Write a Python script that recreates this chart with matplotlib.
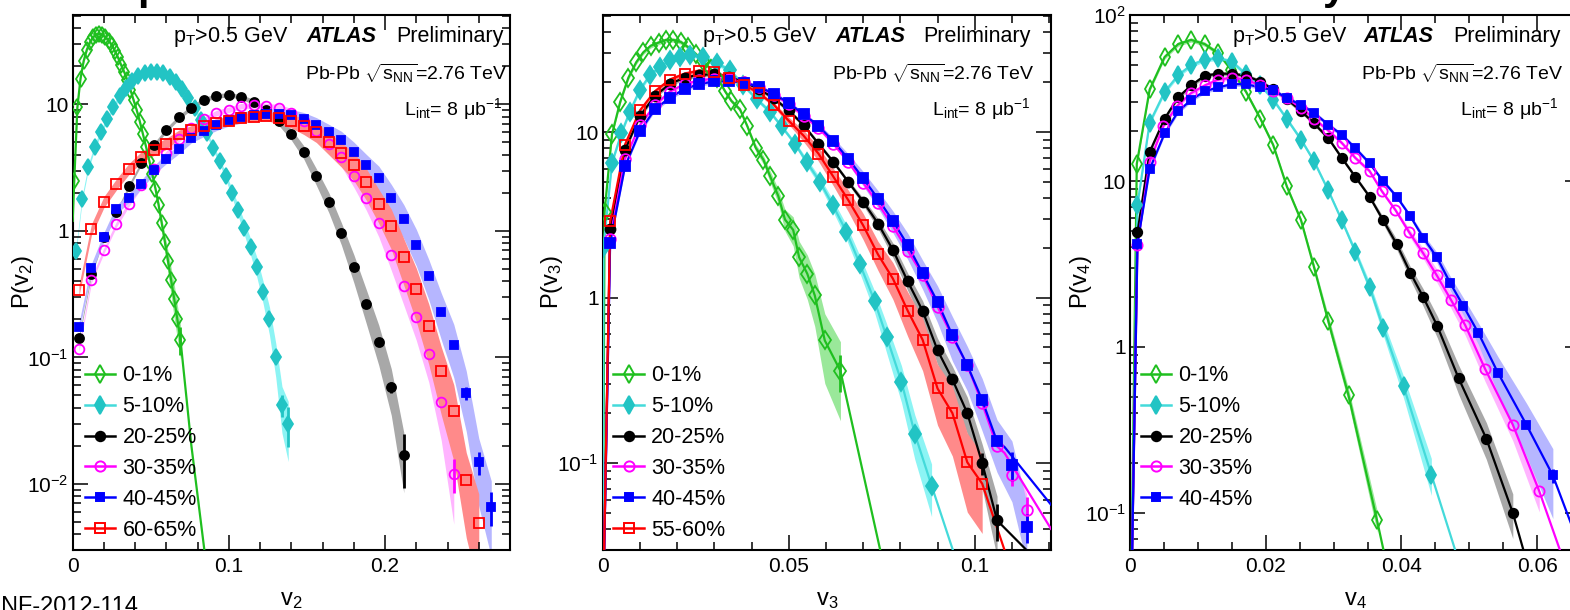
import numpy as np
import matplotlib
matplotlib.use("Agg")
import matplotlib.pyplot as plt
from matplotlib.lines import Line2D
from matplotlib.ticker import MultipleLocator, LogLocator, NullFormatter, FuncFormatter

plt.rcParams['font.family'] = ['Liberation Sans', 'DejaVu Sans']
plt.rcParams['mathtext.fontset'] = 'custom'
plt.rcParams['mathtext.rm'] = 'Liberation Sans'
plt.rcParams['mathtext.it'] = 'Liberation Sans:italic'
plt.rcParams['mathtext.bf'] = 'Liberation Sans:bold'

# ---------------- v2 panel ----------------
v2_labels = ['0-1%', '5-10%', '20-25%', '30-35%', '40-45%', '60-65%']

v2_x_a = [0.001, 0.003, 0.005, 0.007, 0.009, 0.011, 0.013, 0.015, 0.017, 0.019,
          0.021, 0.023, 0.025, 0.027, 0.029, 0.031, 0.033, 0.035, 0.037, 0.039,
          0.041, 0.043, 0.045, 0.047, 0.049, 0.051, 0.053, 0.055, 0.057, 0.059,
          0.061, 0.063, 0.065, 0.067, 0.069]
v2_y_a = [2.5, 9.5, 16, 22, 27, 31, 34, 35.6, 36, 35.5,
          34, 32, 29.5, 26.5, 23.5, 20.5, 18, 15.5, 13, 10.8,
          9.0, 7.3, 5.8, 4.6, 3.6, 2.8, 2.15, 1.6, 1.15, 0.82,
          0.58, 0.41, 0.29, 0.2, 0.138]
v2_band_a = [0.04] * 26 + [0.06, 0.08, 0.1, 0.15, 0.2, 0.25, 0.3, 0.3, 0.3]

v2_x_b = [0.002, 0.006, 0.010, 0.014, 0.018, 0.022, 0.026, 0.030, 0.034, 0.038,
          0.042, 0.046, 0.050, 0.054, 0.058, 0.062, 0.066, 0.070, 0.074, 0.078,
          0.082, 0.086, 0.090, 0.094, 0.098, 0.102, 0.106, 0.110, 0.114, 0.118,
          0.122, 0.126, 0.130, 0.134, 0.138]
v2_y_b = [0.69, 1.8, 3.2, 4.6, 6.0, 7.7, 9.6, 11.6, 13.6, 15.3,
          16.7, 17.7, 18.2, 18.2, 17.7, 16.6, 15.0, 13.2, 11.2, 9.3,
          7.5, 5.9, 4.5, 3.6, 2.7, 2.0, 1.45, 1.05, 0.75, 0.52,
          0.33, 0.2, 0.1, 0.042, 0.03]
v2_band_b = [0.05] * 24 + [0.06, 0.08, 0.1, 0.12, 0.15, 0.18, 0.2, 0.25, 0.3, 0.4, 0.5]

v2_bins = [0.004, 0.012, 0.020, 0.028, 0.036, 0.044, 0.052, 0.060, 0.068, 0.076,
           0.084, 0.092, 0.100, 0.108, 0.116, 0.124, 0.132, 0.140, 0.148, 0.156,
           0.164, 0.172, 0.180, 0.188, 0.196, 0.204, 0.212, 0.220, 0.228, 0.236,
           0.244, 0.252, 0.260, 0.268]

v2_y_c = [0.143, 0.46, 0.89, 1.40, 2.26, 3.45, 4.75, 6.3, 7.9, 9.45,
          10.9, 11.7, 11.9, 11.5, 10.4, 9.0, 7.4, 5.8, 4.2, 2.7,
          1.70, 0.97, 0.52, 0.264, 0.133, 0.058, 0.017]
v2_band_c = [0.04] * 14 + [0.05, 0.06, 0.08, 0.1, 0.12, 0.15, 0.18, 0.2, 0.25, 0.3, 0.35, 0.4, 0.5]

v2_y_d = [0.117, 0.41, 0.70, 1.13, 1.64, 2.29, 3.06, 4.1, 5.3, 6.5,
          7.6, 8.55, 9.1, 9.7, 9.85, 9.7, 9.45, 8.6, 7.4, 6.2,
          4.9, 3.85, 2.7, 1.82, 1.15, 0.65, 0.37, 0.21, 0.106, 0.044,
          0.012]
v2_band_d = [0.05] * 16 + [0.06, 0.08, 0.1, 0.12, 0.14, 0.16, 0.18, 0.2, 0.22, 0.25, 0.3, 0.35, 0.4, 0.5, 0.6]

v2_y_e = [0.174, 0.51, 0.90, 1.48, 1.82, 2.34, 3.04, 3.7, 4.43, 5.4,
          6.2, 6.9, 7.5, 7.9, 8.2, 8.4, 8.45, 8.3, 7.7, 6.9,
          6.0, 5.2, 4.2, 3.3, 2.6, 1.82, 1.24, 0.78, 0.44, 0.23,
          0.126, 0.052, 0.0148, 0.0066]
v2_band_e = [0.08] * 10 + [0.1] * 8 + [0.12, 0.14, 0.16, 0.18, 0.2, 0.22, 0.25, 0.28,
                                       0.3, 0.32, 0.35, 0.4, 0.45, 0.5, 0.55, 0.6]

v2_y_f = [0.34, 1.03, 1.70, 2.34, 3.1, 3.85, 4.4, 4.9, 5.8, 6.3,
          6.8, 7.1, 7.4, 7.8, 7.95, 8.1, 7.8, 7.4, 6.8, 6.1,
          5.0, 4.1, 3.33, 2.43, 1.64, 1.10, 0.62, 0.35, 0.176, 0.078,
          0.038, 0.0107, 0.0049]
v2_band_f = [0.1] * 8 + [0.08] * 8 + [0.1, 0.12, 0.15, 0.18, 0.2, 0.22, 0.25, 0.28, 0.3,
                                      0.35, 0.4, 0.45, 0.5, 0.55, 0.6, 0.65, 0.7]

# relative stat. errors on the last points of each curve
v2_stat = [[0.25], [0.2, 0.35], [0.1, 0.45], [0.3], [0.12, 0.2, 0.3], []]
# only the 0-1% curve has a drawn fit line in this panel
v2_head_a = ([0.0], [1.2])
v2_tail_a = ([0.076, 0.0843, 0.086], [0.02, 0.003, 0.002])

# ---------------- v3 panel ----------------
v3_labels = ['0-1%', '5-10%', '20-25%', '30-35%', '40-45%', '55-60%']

v3_x_a = [0.0005, 0.0025, 0.0047, 0.0069, 0.009, 0.0109, 0.0129, 0.015, 0.017, 0.019,
          0.021, 0.023, 0.025, 0.027, 0.029, 0.0308, 0.0329, 0.0346, 0.0369, 0.0389,
          0.0411, 0.0432, 0.045, 0.0472, 0.049, 0.0512, 0.0528, 0.055, 0.057, 0.0597,
          0.0639]
v3_y_a = [3.3, 9.7, 15.2, 21.3, 26.4, 30.3, 33.2, 34.7, 36, 36,
          35, 32.5, 29.6, 26.8, 24, 21.3, 17.6, 15.4, 13.7, 10.8,
          8.05, 6.8, 5.4, 4.1, 2.96, 2.56, 1.75, 1.39, 1.03, 0.55,
          0.36]
v3_band_a = [0.03] * 20 + [0.05, 0.06, 0.08, 0.1, 0.15, 0.2, 0.25, 0.3, 0.35, 0.45, 0.5]

v3_x_b = [0.0002, 0.0025, 0.005, 0.0073, 0.01, 0.0127, 0.0154, 0.0181, 0.0208, 0.0234,
          0.027, 0.0306, 0.0342, 0.0378, 0.0414, 0.0449, 0.0481, 0.0517, 0.0548, 0.0584,
          0.0619, 0.0655, 0.0691, 0.0731, 0.0763, 0.0803, 0.0839, 0.0884]
v3_y_b = [1.98, 6.5, 9.8, 13.3, 18, 22.1, 24.8, 27.2, 28.5, 29.2,
          28.5, 26, 23.7, 19.2, 15.8, 13.3, 10.8, 8.5, 6.6, 5.0,
          3.6, 2.5, 1.6, 0.95, 0.58, 0.31, 0.15, 0.073]
v3_band_b = [0.03] * 18 + [0.05, 0.06, 0.08, 0.1, 0.12, 0.15, 0.2, 0.25, 0.3, 0.35]

v3_bins = [0.002, 0.006, 0.010, 0.014, 0.018, 0.022, 0.026, 0.030, 0.034, 0.038,
           0.042, 0.046, 0.050, 0.054, 0.058, 0.062, 0.066, 0.070, 0.074, 0.078,
           0.082, 0.086, 0.090, 0.094, 0.098, 0.102, 0.106, 0.110, 0.114]

v3_y_c = [2.6, 7.8, 12.5, 16.5, 19.5, 21.3, 22.2, 22.3, 21.5, 20,
          18.2, 16, 13.5, 11.0, 8.5, 6.6, 5.0, 3.8, 2.8, 1.94,
          1.25, 0.83, 0.48, 0.32, 0.2, 0.1, 0.045]
v3_band_c = [0.03] * 17 + [0.05, 0.07, 0.1, 0.12, 0.15, 0.18, 0.2, 0.25, 0.3, 0.4]

v3_y_d = [2.26, 6.9, 11, 14.5, 17.5, 19.5, 20.5, 21, 20.8, 20,
          18.7, 16.8, 14.8, 12.5, 10.6, 8.5, 6.6, 4.95, 3.7, 2.7,
          1.92, 1.37, 0.88, 0.58, 0.39, 0.229, 0.126, 0.085, 0.052]
v3_band_d = [0.03] * 18 + [0.05, 0.06, 0.08, 0.1, 0.12, 0.14, 0.16, 0.18, 0.2, 0.22, 0.25]

v3_y_e = [2.14, 6.2, 10.1, 13.7, 16.1, 18.2, 19.5, 20.2, 20.3, 19.9,
          18.8, 17, 15, 12.8, 10.9, 8.8, 6.9, 5.25, 3.95, 2.9,
          2.07, 1.4, 0.94, 0.59, 0.39, 0.24, 0.135, 0.097, 0.041]
v3_band_e = [0.03] * 15 + [0.05, 0.07, 0.1, 0.12, 0.15, 0.18, 0.2, 0.25, 0.3, 0.3, 0.35, 0.35, 0.4, 0.4]

v3_y_f = [2.88, 8.4, 13.5, 17.6, 20.7, 22.5, 23.5, 22.9, 21.3, 19.3,
          17.2, 14.6, 11.7, 9.5, 7.4, 5.37, 3.88, 2.73, 1.82, 1.30,
          0.83, 0.555, 0.282, 0.20, 0.101, 0.075]
v3_band_f = [0.03] * 12 + [0.05, 0.08, 0.1, 0.12, 0.15, 0.18, 0.2, 0.25, 0.3, 0.35, 0.4, 0.45, 0.5, 0.5]

v3_stat = [[0.25], [], [0.15, 0.25], [0.15, 0.2], [0.2, 0.2], []]
# fit-line ends beyond the data
v3_tails = [([0.0763], [0.02]), ([0.0955], [0.024]), ([0.1139, 0.118], [0.0298, 0.022]),
            ([0.108, 0.1205], [0.115, 0.040]), ([0.108, 0.1205], [0.125, 0.056]),
            ([0.108, 0.110], [0.0298, 0.022])]

# ---------------- v4 panel ----------------
v4_labels = ['0-1%', '5-10%', '20-25%', '30-35%', '40-45%']

v4_x_a = [0.001, 0.0029, 0.0051, 0.0071, 0.009, 0.011, 0.013, 0.0149, 0.0171, 0.0192,
          0.0211, 0.0231, 0.0252, 0.0271, 0.0292, 0.0322, 0.0364]
v4_y_a = [12.7, 35.7, 56, 67, 71, 67, 59, 47, 34.5, 23.8,
          16.5, 9.3, 5.8, 3.04, 1.44, 0.51, 0.09]
v4_band_a = [0.03] * 13 + [0.05, 0.08, 0.1, 0.15]

v4_x_b = [0.0011, 0.0029, 0.0051, 0.0071, 0.009, 0.011, 0.013, 0.015, 0.0171, 0.0192,
          0.0211, 0.0231, 0.0252, 0.0271, 0.0292, 0.0312, 0.0332, 0.0353, 0.0373, 0.0403,
          0.0444]
v4_y_b = [7.2, 22.5, 34.5, 43.5, 50, 54, 55, 52.5, 44, 38,
          31, 23.7, 17.8, 13.2, 8.8, 5.8, 3.75, 2.3, 1.31, 0.58,
          0.17]
v4_band_b = [0.03] * 16 + [0.05, 0.07, 0.1, 0.15, 0.25]

v4_x_c = [0.0011, 0.0029, 0.0051, 0.0071, 0.009, 0.011, 0.013, 0.015, 0.0171, 0.0192,
          0.0211, 0.0231, 0.0252, 0.0271, 0.0292, 0.0312, 0.0332, 0.0353, 0.0373, 0.0393,
          0.0413, 0.0432, 0.0453, 0.0484, 0.0525, 0.0564]
v4_y_c = [4.9, 15, 23.8, 32, 37.7, 43.2, 44.4, 44.4, 43.2, 39.8,
          35.7, 31.2, 26.5, 22.3, 18.2, 13.8, 10.6, 8.05, 5.8, 4.16,
          2.8, 2.0, 1.33, 0.65, 0.28, 0.1]
v4_band_c = [0.03] * 18 + [0.05, 0.07, 0.09, 0.12, 0.15, 0.2, 0.25, 0.3]

v4_x_d = [0.0011, 0.0029, 0.0049, 0.0069, 0.009, 0.011, 0.013, 0.015, 0.0171, 0.0192,
          0.0211, 0.0231, 0.0252, 0.0271, 0.0292, 0.0312, 0.0332, 0.0353, 0.0371, 0.0391,
          0.0411, 0.0432, 0.0452, 0.0473, 0.0494, 0.0523, 0.0564, 0.0603]
v4_y_d = [4.1, 13.1, 21.4, 28.3, 33.9, 37.7, 40.9, 42, 40.9, 37.7,
          35.1, 31.5, 27.7, 23.8, 20.2, 17, 13.8, 11.5, 8.7, 6.7,
          4.94, 3.67, 2.7, 1.92, 1.35, 0.74, 0.34, 0.135]
v4_band_d = [0.03] * 20 + [0.05, 0.07, 0.09, 0.11, 0.13, 0.16, 0.2, 0.25]

v4_x_e = [0.0011, 0.0029, 0.0051, 0.0071, 0.009, 0.011, 0.013, 0.015, 0.0171, 0.0192,
          0.0211, 0.0231, 0.0252, 0.0271, 0.0292, 0.0312, 0.0332, 0.0353, 0.0373, 0.0393,
          0.0413, 0.0432, 0.0452, 0.0472, 0.0491, 0.0513, 0.0542, 0.0584, 0.0623]
v4_y_e = [4.2, 11.8, 19.4, 26.3, 30.9, 34.8, 36.7, 38.4, 38.4, 36.7,
          35.3, 31.7, 28.8, 25.8, 21.9, 19, 15.8, 12.8, 10, 8.05,
          6.14, 4.56, 3.48, 2.42, 1.77, 1.22, 0.70, 0.34, 0.168]
v4_band_e = [0.03] * 21 + [0.05, 0.07, 0.1, 0.12, 0.15, 0.25, 0.35, 0.45]

v4_stat = [[], [], [], [], [0.1]]
v4_tails = [([0.0380], [0.045]), ([0.0485], [0.05]), ([0.0585], [0.05]),
            ([0.0640], [0.05]), ([0.0663], [0.062])]

# ---------------- styles ----------------
COLORS = ['#1fbf1f', '#22c4c4', '#000000', '#ff00ff', '#0000ff', '#ff0000']
LINECOL = ['#1fbf1f', '#44dada', '#000000', '#ff00ff', '#0000ff', '#ff0000']
BANDCOL = ['#9ae89a', '#8cf4f4', '#a8a8a8', '#ffb4ff', '#b6b6ff', '#ff8a8a']
MARKERS = ['d', 'd', 'o', 'o', 's', 's']
FILLED = [False, True, True, False, True, False]
MSIZE = [8.5, 8.5, 6.5, 7, 6, 7]

W, H = 1570, 610
fig = plt.figure(figsize=(W / 100, H / 100), dpi=100)


def px_axes(l, t, r, b):
    return fig.add_axes([l / W, 1 - b / H, (r - l) / W, (b - t) / H])


def log_fmt(v, pos):
    e = int(round(np.log10(v)))
    if e == 0:
        return '1'
    if e == 1:
        return '10'
    return r'$10^{%d}$' % e


def setup(ax, xlim, ylim, xmaj, xmin, xlab, ylab, ylab_x):
    ax.set_yscale('log')
    ax.set_xlim(*xlim)
    ax.set_ylim(*ylim)
    ax.xaxis.set_major_locator(MultipleLocator(xmaj))
    ax.xaxis.set_minor_locator(MultipleLocator(xmin))
    ax.xaxis.set_major_formatter(FuncFormatter(lambda v, p: '0' if abs(v) < 1e-9 else '%g' % v))
    ax.yaxis.set_major_locator(LogLocator(base=10, numticks=12))
    ax.yaxis.set_minor_locator(LogLocator(base=10, subs=np.arange(2, 10), numticks=30))
    ax.yaxis.set_major_formatter(FuncFormatter(log_fmt))
    ax.yaxis.set_minor_formatter(NullFormatter())
    ax.tick_params(which='both', direction='in', top=True, right=True, width=1.1, labelsize=15)
    ax.tick_params(which='major', length=10.5)
    ax.tick_params(which='minor', length=5.5)
    ax.tick_params(axis='x', pad=5)
    ax.tick_params(axis='y', pad=3)
    for sp in ax.spines.values():
        sp.set_linewidth(1.5)
    ax.set_xlabel(xlab, fontsize=17)
    ax.xaxis.set_label_coords(0.5, -0.093)
    ax.xaxis.label.set_va('center')
    ax.set_ylabel(ylab, fontsize=17)
    ax.yaxis.set_label_coords(ylab_x, 0.5)
    ax.yaxis.label.set_va('center')


def draw(ax, xs, ys, bands, stats, labels, tails, heads, scale, fit_lines):
    handles = []
    for i in range(len(xs)):
        x = np.array(xs[i])
        y = np.array(ys[i])
        b = np.array(bands[i])
        ax.fill_between(x, y * (1 - b), y * (1 + b), color=BANDCOL[i], lw=0, zorder=1 + 0.1 * i)
        if fit_lines[i]:
            tx, ty = tails[i]
            keep = x < tx[0]
            hx, hy = heads[i]
            lx = np.concatenate([hx, x[keep], tx])
            ly = np.concatenate([hy, y[keep], ty])
            ax.plot(lx, ly, color=LINECOL[i], lw=1.6, zorder=3 + 0.1 * i)
        mfc = COLORS[i] if FILLED[i] else 'none'
        ax.plot(x, y, ls='none', marker=MARKERS[i], ms=MSIZE[i] * scale, mfc=mfc,
                mec=COLORS[i], mew=1.3, zorder=5 + 0.1 * i)
        n = len(stats[i])
        if n:
            ex, ey = x[-n:], y[-n:]
            err = ey * np.array(stats[i])
            ax.errorbar(ex, ey, yerr=[err, err], fmt='none', ecolor=COLORS[i], elinewidth=2,
                        capsize=0, zorder=4 + 0.1 * i)
        handles.append(Line2D([], [], color=LINECOL[i], lw=1.8, marker=MARKERS[i], ms=MSIZE[i] * 1.05,
                              mfc=mfc, mec=COLORS[i], mew=1.4))
    return handles


def legend(ax, handles, labels, x0):
    ax.legend(handles, labels, loc='upper left', bbox_to_anchor=(x0, 0.345), frameon=False,
              fontsize=15.5, borderpad=0, borderaxespad=0, handlelength=1.4,
              handletextpad=0.35, labelspacing=0.46)


def header(pt_x, atlas_x, prel_x, right1, right2):
    def t(x, y, s, **kw):
        fig.text(x / W, 1 - y / H, s, va='baseline', **kw)
    t(pt_x, 41.7, r'$\mathrm{p}_{\mathrm{T}}$>0.5 GeV', fontsize=15.5)
    t(atlas_x, 41.7, 'ATLAS', fontsize=15.5, fontweight='bold', fontstyle='italic')
    t(prel_x, 41.7, 'Preliminary', fontsize=15.5)
    t(right1, 80, r'Pb-Pb $\sqrt{\mathrm{s}_{\mathrm{NN}}}$=2.76 TeV', fontsize=14, ha='right')
    t(right2, 115.5, r'L$_{\mathrm{int}}$= 8 μb$^{-1}$', fontsize=14, ha='right')


# panel v2
ax1 = px_axes(72.7, 14.5, 510, 550)
setup(ax1, (0, 0.28), (0.0030, 51.4), 0.1, 0.02, r'v$_{2}$', r'P(v$_{2}$)', -0.114)
h1 = draw(ax1, [v2_x_a, v2_x_b, v2_bins[:27], v2_bins[:31], v2_bins[:34], v2_bins[:33]],
          [v2_y_a, v2_y_b, v2_y_c, v2_y_d, v2_y_e, v2_y_f],
          [v2_band_a, v2_band_b, v2_band_c, v2_band_d, v2_band_e, v2_band_f],
          v2_stat, v2_labels, [v2_tail_a] + [None] * 5, [v2_head_a] + [None] * 5, 1.0,
          [True, False, False, False, False, False])
legend(ax1, h1, v2_labels, 0.028)
header(173.3, 306.7, 396.7, 508, 501.7)

# panel v3
ax2 = px_axes(602.7, 14.5, 1051, 550)
setup(ax2, (0, 0.1205), (0.0298, 51.3), 0.05, 0.01, r'v$_{3}$', r'P(v$_{3}$)', -0.112)
h2 = draw(ax2, [v3_x_a, v3_x_b, v3_bins[:27], v3_bins[:29], v3_bins[:29], v3_bins[:26]],
          [v3_y_a, v3_y_b, v3_y_c, v3_y_d, v3_y_e, v3_y_f],
          [v3_band_a, v3_band_b, v3_band_c, v3_band_d, v3_band_e, v3_band_f],
          v3_stat, v3_labels, v3_tails, [([0.0], [0.01])] * 6, 1.1, [True] * 6)
legend(ax2, h2, v3_labels, 0.024)
header(701.7, 835, 923.3, 1035, 1030)

# panel v4
ax3 = px_axes(1130, 14.5, 1580, 550)
setup(ax3, (0, 0.0663), (0.0597, 101), 0.02, 0.005, r'v$_{4}$', r'P(v$_{4}$)', -0.109)
h3 = draw(ax3, [v4_x_a, v4_x_b, v4_x_c, v4_x_d, v4_x_e],
          [v4_y_a, v4_y_b, v4_y_c, v4_y_d, v4_y_e],
          [v4_band_a, v4_band_b, v4_band_c, v4_band_d, v4_band_e],
          v4_stat, v4_labels, v4_tails, [([0.0], [0.01])] * 5, 1.05, [True] * 5)
legend(ax3, h3, v4_labels, 0.024)
header(1231.7, 1363.3, 1453.3, 1563.3, 1558.3)

# cropped pieces of the page around the figure
fig.text(139 / W, 1 - 613 / H, 'ATLAS-CONF-2012-114', fontsize=17, ha='right', va='baseline')
fig.text(137 / W, 1 + 1 / H, 'p', fontsize=30, fontweight='bold', va='baseline')
fig.text(1323 / W, 1 + 1 / H, 'y', fontsize=30, fontweight='bold', va='baseline')

fig.savefig('out.png', dpi=100)
